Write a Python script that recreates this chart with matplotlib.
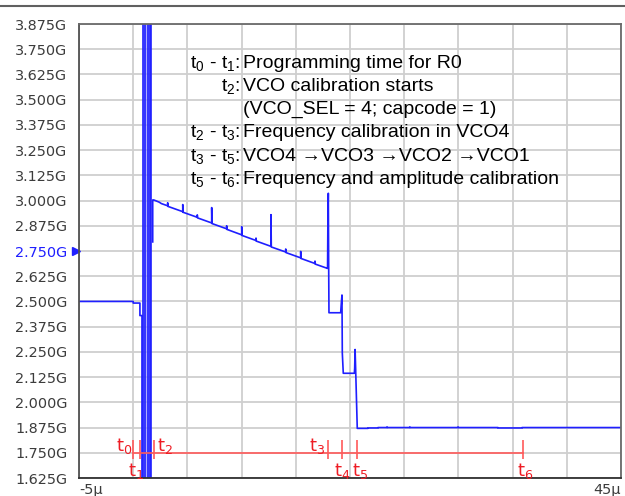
import matplotlib.pyplot as plt
from matplotlib.lines import Line2D

plt.rcParams["mathtext.fontset"] = "custom"
plt.rcParams["mathtext.rm"] = "Liberation Sans"
plt.rcParams["mathtext.it"] = "Liberation Sans"

nan = float("nan")

# time (us) / frequency (GHz) of the blue trace
trace_t = [-5.0, 0.0, 0.0, 0.62, 0.62, 0.81, 0.81, 0.81,
           1.80, 1.80, 1.90, 2.40, 2.60,
           3.18, 3.18, 3.21, 4.57, 4.57, 4.60, 5.91, 5.91, 5.94,
           7.24, 7.24, 7.27, 8.62, 8.62, 8.65, 10.01, 10.01, 10.04,
           11.33, 11.33, 11.36, 12.71, 12.71, 12.74, 14.07, 14.07, 14.10,
           15.45, 15.45, 15.48, 16.77, 16.77, 16.80, 17.91,
           17.93, 17.96, 18.00, 18.03, 18.06, 19.14, 19.20, 19.26, 19.29, 19.38,
           20.40, 20.43, 20.47, 20.52, 20.67, 21.66, 21.66, 22.58, 22.58,
           23.40, 23.42, 23.45, 25.50, 25.52, 25.55, 29.95, 29.97, 30.00,
           33.65, 33.65, 35.87, 35.87, 45.0]
trace_f = [2.500, 2.500, 2.492, 2.492, 2.430, 2.430, 1.550, nan,
           2.795, 3.003, 3.003, 2.992, 2.985,
           2.974, 2.989, 2.971, 2.945, 2.980, 2.942, 2.917, 2.929, 2.914,
           2.889, 2.965, 2.886, 2.860, 2.875, 2.857, 2.830, 2.870, 2.827,
           2.802, 2.814, 2.799, 2.773, 2.930, 2.770, 2.745, 2.760, 2.742,
           2.716, 2.748, 2.713, 2.688, 2.700, 2.685, 2.664,
           2.664, 2.900, 3.036, 2.700, 2.444, 2.444, 2.492, 2.532, 2.245, 2.144,
           2.144, 2.168, 2.262, 2.168, 1.871, 1.871, 1.873, 1.873, 1.875,
           1.875, 1.878, 1.875, 1.875, 1.878, 1.875, 1.875, 1.878, 1.875,
           1.875, 1.873, 1.873, 1.875, 1.875]

# oscillation burst at the start of the VCO calibration
burst_lo, burst_hi = 0.93, 1.64
burst_lines = [0.95, 1.10, 1.34, 1.55, 1.64]

# event markers
events = ["0", "1", "2", "3", "4", "5", "6"]
event_t = [0.0, 0.63, 1.92, 18.0, 19.3, 20.65, 36.0]
event_level = 1.75

yticks = [1.625 + 0.125 * i for i in range(19)]
ytick_labels = ["%.3fG" % v for v in yticks]

notes = [(r"$\mathregular{t_0}$ - $\mathregular{t_1}$:", "Programming time for R0"),
         (r"$\mathregular{t_2}$:", "VCO calibration starts"),
         ("", "(VCO_SEL = 4; capcode = 1)"),
         (r"$\mathregular{t_2}$ - $\mathregular{t_3}$:", "Frequency calibration in VCO4"),
         (r"$\mathregular{t_3}$ - $\mathregular{t_5}$:", "VCO4 →VCO3 →VCO2 →VCO1"),
         (r"$\mathregular{t_5}$ - $\mathregular{t_6}$:", "Frequency and amplitude calibration")]

blue = "#1f1fff"
red = "#ee1c24"
fonts = ["Liberation Sans", "DejaVu Sans"]

fig = plt.figure(figsize=(6.25, 4.96), dpi=100)
ax = fig.add_axes([79 / 625, 1 - 478 / 496, 542 / 625, 454 / 496])

ax.set_xlim(-5, 45)
ax.set_ylim(1.625, 3.875)
ax.set_xticks(range(-5, 46, 5))
ax.set_yticks(yticks)
ax.grid(True, color="#cfcfcf", linewidth=1.3)
ax.set_axisbelow(True)
ax.tick_params(length=0, pad=8.5)
ax.set_xticklabels([])
ax.set_yticklabels(ytick_labels, fontsize=10.4, color="#3c3c3c")
ax.get_yticklabels()[9].set_color(blue)
for s in ax.spines.values():
    s.set_color("#6a6a6a")
    s.set_linewidth(1.3)
ax.spines["bottom"].set_color("#303030")
ax.spines["left"].set_color("#505050")

ax.text(0, -0.01, "-5µ", transform=ax.transAxes, ha="left", va="top",
        fontsize=10.4, color="#3c3c3c")
ax.text(1, -0.01, "45µ", transform=ax.transAxes, ha="right", va="top",
        fontsize=10.4, color="#3c3c3c")

# marker on y axis at 2.750G
ax.plot([-0.005], [yticks[9]], marker=">", color=blue, markersize=6,
        transform=ax.get_yaxis_transform(), clip_on=False)

# burst
ax.axvspan(burst_lo, burst_hi, color="#8c8cff", alpha=0.7, lw=0)
ax.vlines(burst_lines, 1.5, 4.0, color=blue, lw=1.2)

ax.plot(trace_t, trace_f, color=blue, lw=1.2)

# event markers
ax.plot([event_t[0], event_t[-1]], [event_level, event_level], color="#ff5a5a", lw=1.2)
ax.vlines(event_t, event_level - 0.031, event_level + 0.063, color="#ff5a5a", lw=1.2)
offsets = [(-1, 7, "right"), (-4, -18, "center"), (3, 7, "left"), (-3, 7, "right"),
           (0, -18, "center"), (3, -18, "center"), (2, -18, "center")]
for num, t, (dx, dy, ha) in zip(events, event_t, offsets):
    ax.annotate(r"$\mathregular{t_%s}$" % num, (t, event_level), xytext=(dx, dy),
                textcoords="offset pixels", ha=ha, va="center", color=red, fontsize=13)

# notes
for i, (lab, txt) in enumerate(notes):
    y = 1 - (63 + 23.3 * i - 24) / 454
    ax.text((240 - 79) / 542, y, lab, transform=ax.transAxes, ha="right", va="center",
            fontsize=14, family=fonts, color="black")
    ax.text((243 - 79) / 542, y, txt, transform=ax.transAxes, ha="left", va="center",
            fontsize=14, family=fonts, color="black")

fig.add_artist(Line2D([0, 1], [1 - 5.5 / 496, 1 - 5.5 / 496], color="#606060", lw=1.5))

fig.savefig("out.png", dpi=100)
